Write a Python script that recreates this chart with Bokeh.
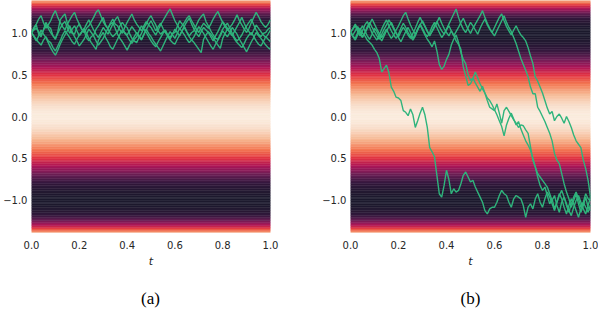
import numpy as np
from bokeh.plotting import figure
from bokeh.layouts import row, column
from bokeh.models import Range1d, FixedTicker, ColumnDataSource
from bokeh.core.properties import value
from bokeh.transform import linear_cmap
from bokeh.embed import file_html
from bokeh.resources import INLINE

# ---------------- data ----------------
T = np.linspace(0.0, 1.0, 101)

LEFT_PATHS = [
    [1.00,1.04,1.09,0.98,0.95,1.03,1.12,1.07,1.05,0.96,
     0.92,1.01,1.15,1.19,1.22,1.11,1.05,0.99,0.98,1.06,
     1.10,1.04,1.02,0.94,0.90,0.95,0.97,1.04,1.08,1.13,
     1.18,1.09,1.04,0.99,0.95,0.98,1.01,1.08,1.12,1.08,
     1.06,0.99,0.93,0.90,0.88,0.94,0.99,1.05,1.10,1.16,
     1.20,1.14,1.09,1.02,0.98,1.01,1.03,0.97,0.94,0.99,
     1.00,1.07,1.14,1.10,1.07,1.01,0.96,1.00,1.02,1.09,
     1.15,1.19,1.22,1.13,1.08,1.02,0.97,0.93,0.92,0.98,
     1.04,1.08,1.11,1.05,0.99,0.94,0.90,0.93,0.97,1.03,
     1.08,1.12,1.16,1.09,1.03,0.98,0.95,0.99,1.00,1.04,
     1.06],
    [1.00,0.96,0.92,0.88,0.85,0.91,0.95,0.90,0.88,0.82,
     0.78,0.84,0.90,0.97,1.02,0.98,0.94,0.89,0.86,0.92,
     0.97,1.01,1.05,0.99,0.93,0.88,0.84,0.80,0.91,0.96,
     1.00,0.94,0.89,0.83,0.80,0.86,0.92,0.98,1.03,0.99,
     0.96,0.91,0.87,0.92,0.95,1.02,1.08,1.04,1.00,0.95,
     0.90,0.86,0.83,0.89,0.94,0.99,1.02,0.96,0.91,0.88,
     0.86,0.92,0.97,1.02,1.06,1.00,0.95,0.91,0.88,0.84,
     0.80,0.76,0.92,0.97,1.01,0.98,0.94,0.89,0.85,0.81,
     0.93,0.99,1.04,1.00,0.97,0.92,0.88,0.85,0.82,0.87,
     0.93,0.97,1.00,0.95,0.90,0.86,0.84,0.89,0.95,0.92,
     0.89],
    [1.00,1.06,1.10,1.16,1.20,1.12,1.05,1.09,1.14,1.21,
     1.26,1.18,1.12,1.07,1.03,1.10,1.15,1.20,1.24,1.16,
     1.10,1.04,1.00,1.05,1.08,1.13,1.18,1.24,1.27,1.20,
     1.13,1.08,1.05,1.11,1.16,1.10,1.08,1.03,0.99,1.06,
     1.12,1.17,1.22,1.15,1.10,1.06,1.02,1.08,1.13,1.09,
     1.06,1.01,0.97,1.03,1.09,1.14,1.19,1.24,1.28,1.21,
     1.14,1.09,1.04,1.08,1.12,1.17,1.20,1.14,1.09,1.04,
     1.00,1.06,1.11,1.08,1.05,1.10,1.16,1.21,1.25,1.18,
     1.12,1.07,1.03,1.06,1.10,1.15,1.21,1.14,1.09,1.04,
     1.00,1.05,1.12,1.18,1.24,1.19,1.13,1.09,1.06,1.10,
     1.15],
    [1.00,0.95,0.90,0.96,1.03,0.98,0.94,0.88,0.82,0.77,
     0.73,0.79,0.86,0.92,0.97,1.02,1.08,1.01,0.95,0.90,
     0.84,0.88,0.92,0.98,1.04,1.00,0.96,0.90,0.85,0.89,
     0.93,0.99,1.05,1.10,1.12,1.05,0.98,0.93,0.89,0.84,
     0.79,0.85,0.90,0.95,1.00,0.96,0.92,0.98,1.04,0.99,
     0.95,0.90,0.86,0.82,0.78,0.84,0.90,0.96,1.01,0.97,
     0.93,0.99,1.05,1.01,0.97,0.92,0.88,0.91,0.95,1.01,
     1.07,1.03,0.99,0.94,0.89,0.84,0.80,0.86,0.91,0.96,
     1.02,0.98,0.95,1.00,1.06,1.02,0.98,0.92,0.87,0.82,
     0.77,0.83,0.89,0.94,1.00,0.96,0.93,0.89,0.85,0.82,
     0.80],
    [1.00,1.03,1.05,1.01,0.97,1.03,1.09,1.05,1.00,0.96,
     0.93,0.99,1.05,1.10,1.13,1.06,0.99,1.04,1.08,1.02,
     0.96,1.00,1.04,1.10,1.15,1.09,1.03,0.98,0.94,1.00,
     1.06,1.02,0.98,1.04,1.10,1.15,1.19,1.12,1.05,1.00,
     0.97,1.02,1.07,1.03,0.99,0.95,0.91,0.97,1.03,1.09,
     1.14,1.08,1.02,1.07,1.11,1.05,1.00,0.96,0.92,0.98,
     1.04,1.00,0.96,1.02,1.08,1.13,1.17,1.10,1.04,0.99,
     0.95,1.01,1.06,1.03,1.00,0.95,0.90,0.96,1.01,1.07,
     1.13,1.09,1.05,1.00,0.96,1.02,1.07,1.12,1.18,1.11,
     1.05,1.01,0.97,1.03,1.09,1.05,1.01,0.97,0.94,0.98,
     1.03],
]

RIGHT_PATHS = [
    [1.00,0.96,0.93,1.00,1.05,0.99,0.96,0.91,0.88,0.85,
     0.80,0.76,0.69,0.53,0.57,0.61,0.52,0.35,0.30,0.23,
     0.22,0.19,0.07,0.05,0.01,0.09,0.02,-0.13,-0.05,0.04,
     0.11,0.02,-0.13,-0.37,-0.42,-0.48,-0.70,-0.92,-0.96,-0.82,
     -0.64,-0.75,-0.92,-0.86,-0.90,-0.88,-0.80,-0.70,-0.66,-0.72,
     -0.78,-0.76,-0.84,-0.90,-0.96,-1.02,-1.12,-1.16,-1.10,-1.08,
     -1.08,-1.02,-0.94,-0.88,-0.92,-0.94,-1.02,-1.08,-0.98,-0.94,
     -0.96,-0.98,-1.06,-1.20,-1.08,-1.04,-1.10,-0.98,-0.92,-1.02,
     -1.08,-0.98,-0.90,-0.96,-1.04,-1.12,-1.02,-0.94,-0.88,-0.96,
     -1.06,-1.14,-1.04,-0.96,-0.90,-0.98,-1.08,-1.02,-0.92,-0.98,
     -1.00],
    [1.00,1.04,1.08,1.01,0.96,1.02,1.09,1.13,1.06,0.99,
     0.95,0.91,0.97,1.04,1.10,1.15,1.08,1.02,0.97,0.93,
     0.98,1.05,1.11,1.06,1.00,0.95,0.91,0.96,1.03,1.09,
     1.14,1.08,1.02,0.97,1.01,1.06,1.12,1.18,1.11,1.05,
     1.00,0.96,1.02,0.97,0.90,0.86,0.80,0.59,0.48,0.37,
     0.39,0.45,0.53,0.46,0.39,0.33,0.28,0.19,0.11,0.09,
     0.07,0.15,0.04,-0.08,0.07,0.11,0.06,0.01,-0.04,-0.08,
     -0.13,-0.10,-0.11,-0.16,-0.20,-0.36,-0.52,-0.60,-0.68,-0.72,
     -0.76,-0.80,-0.84,-0.92,-1.00,-0.94,-1.06,-1.14,-1.02,-0.96,
     -1.04,-1.12,-1.18,-1.08,-1.00,-0.94,-1.02,-1.10,-1.16,-1.06,
     -0.96],
    [1.00,0.95,0.91,0.97,1.03,1.08,1.02,0.96,0.92,0.98,
     1.05,1.01,0.95,0.90,0.96,1.02,1.07,1.12,1.06,1.00,
     0.94,0.89,0.95,1.01,1.06,1.00,0.93,0.98,1.04,1.09,
     1.03,0.97,0.92,0.88,0.83,0.90,0.78,0.62,0.56,0.60,
     0.68,0.74,0.85,0.92,0.97,0.88,0.76,0.68,0.63,0.50,
     0.43,0.46,0.40,0.35,0.30,0.36,0.28,0.22,0.19,0.14,
     0.08,0.02,-0.05,-0.12,-0.23,-0.10,-0.02,0.04,-0.03,-0.10,
     -0.06,-0.15,-0.22,-0.29,-0.34,-0.40,-0.50,-0.60,-0.72,-0.82,
     -0.88,-0.84,-0.94,-1.04,-0.98,-1.10,-1.02,-0.92,-0.98,-1.08,
     -1.16,-1.06,-0.98,-1.04,-1.12,-1.20,-1.10,-1.02,-1.08,-1.14,
     -1.05],
    [1.00,1.05,1.10,1.04,0.98,0.94,1.00,1.07,1.12,1.06,
     1.01,0.96,0.92,0.98,1.04,1.09,1.15,1.10,1.04,0.99,
     0.95,1.01,1.06,1.02,0.97,0.93,0.99,1.05,1.12,1.18,
     1.12,1.07,1.01,0.96,1.02,1.08,1.13,1.07,1.02,0.98,
     1.04,1.10,1.16,1.22,1.28,1.18,1.10,1.04,1.00,1.06,
     1.12,1.08,1.03,0.98,1.05,1.11,1.16,1.09,1.04,1.00,
     0.96,1.02,1.08,1.14,1.20,1.12,1.06,1.01,0.94,0.87,
     0.78,0.69,0.62,0.55,0.47,0.35,0.27,0.27,0.11,0.06,
     0.00,-0.06,-0.13,-0.20,-0.29,-0.44,-0.52,-0.56,-0.68,-0.80,
     -0.90,-0.98,-1.08,-1.00,-0.92,-1.04,-1.14,-1.06,-0.96,-1.08,
     -1.12],
    [1.00,0.97,1.02,1.07,1.01,0.95,0.99,1.05,1.10,1.16,
     1.10,1.04,0.99,0.94,0.99,1.04,0.98,0.93,0.97,1.03,
     1.08,1.14,1.20,1.24,1.16,1.09,1.03,0.98,1.04,1.10,
     1.05,0.99,0.95,1.00,1.07,1.12,1.06,1.00,0.94,0.98,
     1.03,1.08,1.02,0.96,1.01,1.06,1.12,1.17,1.10,1.04,
     0.99,1.05,1.10,1.15,1.20,1.26,1.18,1.11,1.05,1.00,
     1.06,1.12,1.18,1.22,1.14,1.07,1.02,0.97,1.03,1.08,
     1.02,0.97,0.94,0.90,0.82,0.72,0.63,0.47,0.42,0.35,
     0.28,0.19,0.10,0.03,0.06,-0.05,0.00,0.03,-0.02,-0.08,
     0.00,-0.06,-0.13,-0.22,-0.29,-0.33,-0.37,-0.52,-0.62,-0.76,
     -0.96],
]

Y_TICKS = [1.0, 0.5, 0.0, -0.5, -1.0]
Y_TICK_LABELS = ["1.0", "0.5", "0.0", "0.5", "\u22121.0"]
X_TICKS = [0.0, 0.2, 0.4, 0.6, 0.8, 1.0]
X_TICK_LABELS = ["0.0", "0.2", "0.4", "0.6", "0.8", "1.0"]
X_LABEL = "t"
CAPTIONS = ["(a)", "(b)"]

# ---------------- styling ----------------
LINE_COLOR = "#2fb47c"
ROCKET = [(0.0, "#1d1a2e"), (1/7, "#35193e"), (2/7, "#701f57"), (3/7, "#ad1759"),
          (4/7, "#e13342"), (5/7, "#f37651"), (6/7, "#f6b48f"), (1.0, "#faebdd")]


def interp_palette(anchors, n=256):
    pos = [a[0] for a in anchors]
    cols = [tuple(int(h[i:i + 2], 16) for i in (1, 3, 5)) for _, h in anchors]
    out = []
    for k in range(n):
        f = k / (n - 1)
        rgb = [int(round(np.interp(f, pos, [c[j] for c in cols]))) for j in range(3)]
        out.append("#%02x%02x%02x" % tuple(rgb))
    return out


PALETTE = interp_palette(ROCKET)

# background field: double-well potential over y
edges = np.linspace(-1.5, 1.5, 151)
yc = 0.5 * (edges[:-1] + edges[1:])
field = dict(y0=edges[:-1], y1=edges[1:], v=(yc ** 2 - 1.0) ** 2)

FRAME_W = 240
FRAME_H = 232
BOTTOM = 38
CAP_H = 40
Y_LO, Y_HI = -1.381, 1.381


def make_panel(paths, left_b, right_b):
    p = figure(width=left_b + FRAME_W + right_b, height=FRAME_H + BOTTOM,
               x_range=Range1d(0, 1), y_range=Range1d(Y_LO, Y_HI),
               output_backend="svg", toolbar_location=None,
               min_border_left=left_b, min_border_right=right_b,
               min_border_top=0, min_border_bottom=BOTTOM)
    src = ColumnDataSource(field)
    cm = linear_cmap("v", PALETTE, 0.0, 1.0)
    p.quad(left=0, right=1, bottom="y0", top="y1", source=src,
           fill_color=cm, line_color=cm, line_width=0.5)
    for path in paths:
        p.line(T, path, line_color=LINE_COLOR, line_width=1.4)

    p.grid.visible = False
    p.outline_line_color = None
    p.background_fill_color = "white"
    p.border_fill_color = "white"

    for ax in (p.xaxis, p.yaxis):
        ax.axis_line_color = None
        ax.major_tick_line_color = None
        ax.minor_tick_line_color = None
        ax.major_tick_out = 0
        ax.major_tick_in = 0
        ax.minor_tick_out = 0
        ax.minor_tick_in = 0
        ax.major_label_text_font = "DejaVu Sans"
        ax.major_label_text_font_size = "10px"
        ax.major_label_text_color = "#262626"

    p.xaxis.ticker = FixedTicker(ticks=X_TICKS)
    p.xaxis.major_label_overrides = dict(zip(X_TICKS, X_TICK_LABELS))
    p.xaxis.major_label_standoff = 8
    p.xaxis.axis_label = X_LABEL
    p.xaxis.axis_label_text_font = "DejaVu Sans"
    p.xaxis.axis_label_text_font_style = "italic"
    p.xaxis.axis_label_text_font_size = "11px"
    p.xaxis.axis_label_text_color = "#262626"
    p.xaxis.axis_label_standoff = 3

    p.yaxis.ticker = FixedTicker(ticks=Y_TICKS)
    p.yaxis.major_label_overrides = dict(zip(Y_TICKS, Y_TICK_LABELS))
    p.yaxis.major_label_standoff = 4
    return p


def make_caption(caption, left_b, right_b):
    c = figure(width=left_b + FRAME_W + right_b, height=CAP_H,
               x_range=Range1d(0, 1), y_range=Range1d(0, 1),
               output_backend="svg", toolbar_location=None,
               x_axis_location=None, y_axis_location=None,
               min_border_left=left_b, min_border_right=right_b,
               min_border_top=0, min_border_bottom=0)
    c.grid.visible = False
    c.outline_line_color = None
    c.text(x=[0.5], y=[0.3], text=[caption], text_align="center",
           text_baseline="middle", text_font=value("Liberation Serif"),
           text_font_size="17px", text_color="black")
    return c


p1 = make_panel(LEFT_PATHS, 30, 20)
p2 = make_panel(RIGHT_PATHS, 60, 8)
c1 = make_caption(CAPTIONS[0], 30, 20)
c2 = make_caption(CAPTIONS[1], 60, 8)
layout = column(row(p1, p2), row(c1, c2))

open("out.html", "w").write(file_html(layout, INLINE))
